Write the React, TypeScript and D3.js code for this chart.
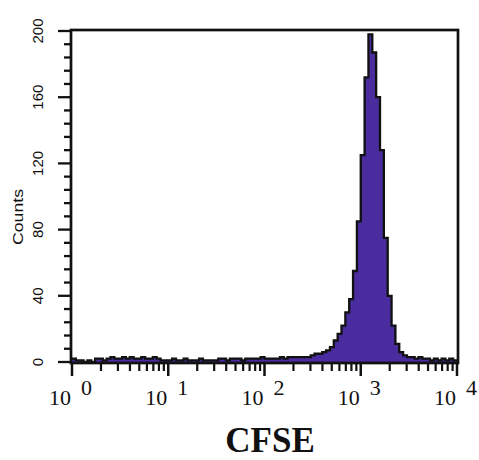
import React from "react";
import * as d3 from "d3";

// Histogram: 100 bins spanning 10^0 .. 10^4 (log-spaced)
const decadeMin = 0;
const decadeMax = 4;
const counts: number[] = [
  2, 1, 1, 0, 1, 0, 2, 2, 1, 2,
  3, 2, 2, 3, 2, 3, 2, 2, 3, 2,
  2, 3, 2, 1, 1, 1, 2, 1, 1, 2,
  1, 1, 1, 2, 1, 1, 1, 1, 2, 2,
  1, 2, 2, 2, 1, 2, 2, 2, 2, 3,
  2, 2, 2, 2, 3, 2, 3, 3, 3, 3,
  3, 3, 4, 5, 5, 6, 7, 9, 13, 17,
  22, 30, 38, 55, 85, 125, 172, 198, 187, 160,
  128, 75, 40, 22, 11, 6, 4, 3, 3, 2,
  3, 2, 2, 1, 2, 1, 2, 1, 2, 1,
];
const yTicks = [0, 40, 80, 120, 160, 200];
const xDecades = [0, 1, 2, 3, 4];
const yLabel = "Counts";
const xLabel = "CFSE";

export default function App() {
  const W = 479, H = 460;
  const x = d3.scaleLog().domain([1, 10000]).range([72, 457]);
  const y = d3.scaleLinear().domain([0, 200]).range([362, 31]);
  const n = counts.length;
  const step = (decadeMax - decadeMin) / n;
  const pts: [number, number][] = [];
  counts.forEach((c, i) => {
    const x0 = x(Math.pow(10, decadeMin + i * step));
    const x1 = x(Math.pow(10, decadeMin + (i + 1) * step));
    pts.push([x0, y(c)], [x1, y(c)]);
  });
  const area = d3.area<[number, number]>().x(d => d[0]).y0(y(0)).y1(d => d[1])(pts) || "";
  const line = d3.line<[number, number]>().x(d => d[0]).y(d => d[1])(pts) || "";

  const yMinor = d3.range(0, 201, 8);
  const xMinor: number[] = [];
  for (let d = 0; d < 4; d++) for (let k = 2; k <= 9; k++) xMinor.push(k * Math.pow(10, d));

  const frameTop = 30, frameBottom = 363, frameLeft = 71, frameRight = 458;

  return (
    <svg width={W} height={H} style={{ position: "absolute", left: 0, top: 0, background: "#fff" }}>
      <path d={area} fill="#4a2c9e" />
      <path d={line} fill="none" stroke="#111" strokeWidth={2.3} />
      <rect x={frameLeft} y={frameTop} width={frameRight - frameLeft} height={frameBottom - frameTop}
        fill="none" stroke="#111" strokeWidth={2.7} />
      {/* y ticks */}
      {yMinor.map(v => (
        <line key={"ym" + v} x1={yTicks.includes(v) ? 58 : 64} x2={frameLeft} y1={y(v)} y2={y(v)}
          stroke="#111" strokeWidth={2.3} />
      ))}
      {yTicks.map(v => (
        <text key={"yt" + v} transform={`translate(43,${y(v)}) rotate(-90)`} textAnchor="middle"
          fontFamily="Liberation Sans, Arial, sans-serif" fontSize={15} fill="#111">{v}</text>
      ))}
      <text transform={`translate(23,217) rotate(-90)`} textAnchor="middle"
        fontFamily="Liberation Sans, Arial, sans-serif" fontSize={14} fill="#111"
        textLength={56} lengthAdjust="spacingAndGlyphs">{yLabel}</text>
      {/* x ticks */}
      {xMinor.map(v => (
        <line key={"xm" + v} x1={x(v)} x2={x(v)} y1={frameBottom} y2={frameBottom + 8}
          stroke="#111" strokeWidth={2.2} />
      ))}
      {xDecades.map(d => (
        <line key={"xM" + d} x1={x(Math.pow(10, d))} x2={x(Math.pow(10, d))} y1={frameBottom} y2={frameBottom + 13}
          stroke="#111" strokeWidth={2.5} />
      ))}
      {xDecades.map(d => (
        <g key={"xl" + d} fontFamily="Liberation Serif, Times New Roman, serif" fontSize={22} fill="#111">
          <text x={x(Math.pow(10, d)) - 1} y={405} textAnchor="end">10</text>
          <text x={x(Math.pow(10, d)) + 9} y={395} textAnchor="start">{d}</text>
        </g>
      ))}
      <text x={270} y={452} textAnchor="middle" fontFamily="Liberation Serif, Times New Roman, serif"
        fontWeight="bold" fontSize={35} fill="#111">{xLabel}</text>
    </svg>
  );
}
